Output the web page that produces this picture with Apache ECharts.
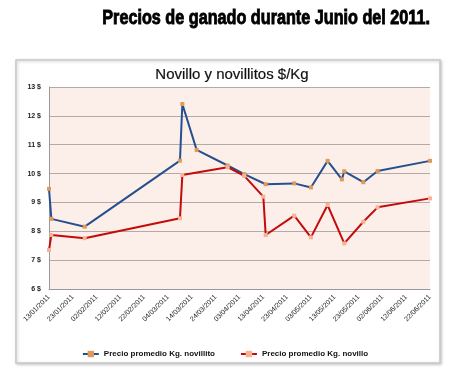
<!DOCTYPE html>
<html>
<head>
<meta charset="utf-8">
<script src="https://cdn.jsdelivr.net/npm/echarts@6/dist/echarts.min.js"></script>
<style>
  html, body { margin: 0; padding: 0; background: #fff; }
  #chart0 { width: 450px; height: 377px; }
</style>
</head>
<body>
<div id="chart0"></div>
<script>
// datos
var startDate = '2011-01-13';
var tickDays = 10;
var spanDays = 160;

var novillitoDates = ['2011-01-13', '2011-01-14', '2011-01-28', '2011-03-09', '2011-03-10', '2011-03-16',
  '2011-03-29', '2011-04-05', '2011-04-14', '2011-04-26', '2011-05-03', '2011-05-10', '2011-05-16',
  '2011-05-17', '2011-05-25', '2011-05-31', '2011-06-22'];
var novillitoValues = [9.47, 8.43, 8.16, 10.45, 12.41, 10.82, 10.28, 9.98, 9.63, 9.66, 9.52, 10.44, 9.8,
  10.08, 9.7, 10.09, 10.44];

var novilloDates = ['2011-01-13', '2011-01-14', '2011-01-28', '2011-03-09', '2011-03-10', '2011-03-29',
  '2011-04-05', '2011-04-13', '2011-04-14', '2011-04-26', '2011-05-03', '2011-05-10', '2011-05-17',
  '2011-05-25', '2011-05-31', '2011-06-22'];
var novilloValues = [7.35, 7.87, 7.76, 8.45, 9.95, 10.22, 9.92, 9.2, 7.87, 8.54, 7.79, 8.91, 7.58, 8.33,
  8.83, 9.14];

function dayIndex(s) {
  var p = s.split('-');
  var p0 = startDate.split('-');
  return (Date.UTC(+p[0], p[1] - 1, +p[2]) - Date.UTC(+p0[0], p0[1] - 1, +p0[2])) / 86400000;
}
function dayLabel(n) {
  var p0 = startDate.split('-');
  var d = new Date(Date.UTC(+p0[0], p0[1] - 1, +p0[2]) + n * 86400000);
  var dd = ('0' + d.getUTCDate()).slice(-2);
  var mm = ('0' + (d.getUTCMonth() + 1)).slice(-2);
  return dd + '/' + mm + '/' + d.getUTCFullYear();
}
function pairs(dates, values) {
  return dates.map(function (s, i) { return [dayIndex(s), values[i]]; });
}

var myChart = echarts.init(document.getElementById('chart0'));
var option = {
  backgroundColor: '#fff',
  animation: false,
  graphic: [
    {
      type: 'rect', z: -10, silent: true,
      shape: { x: 16, y: 60, width: 424, height: 303 },
      style: { fill: '#fff', stroke: '#c8c8c8', lineWidth: 1.5,
        shadowBlur: 3, shadowColor: 'rgba(0,0,0,0.2)', shadowOffsetX: 1, shadowOffsetY: 1 }
    },
    {
      type: 'text', x: 430, y: 18, scaleX: 0.81,
      style: { text: 'Precios de ganado durante Junio del 2011.', x: 0, y: 0,
        align: 'right', verticalAlign: 'middle', fill: '#000', stroke: '#000', lineWidth: 0.9,
        font: 'bold 20px "Liberation Sans", Arial, sans-serif' }
    },
    {
      type: 'text', x: 232, y: 75,
      style: { text: 'Novillo y novillitos $/Kg', align: 'center', verticalAlign: 'middle',
        fill: '#111', stroke: '#111', lineWidth: 0.2,
        font: '15px "Liberation Sans", Arial, sans-serif' }
    }
  ],
  grid: {
    left: 49, right: 20, top: 87, bottom: 88,
    show: true, backgroundColor: '#fcefe9', borderWidth: 0
  },
  legend: {
    data: ['Precio promedio Kg. novillito', 'Precio promedio Kg. novillo'],
    left: 'center', top: 345,
    itemWidth: 16, itemHeight: 8, itemGap: 25,
    textStyle: { color: '#111', fontSize: 8, fontWeight: 'bold', fontFamily: 'Liberation Sans' }
  },
  xAxis: {
    type: 'value',
    min: 0, max: spanDays, interval: tickDays,
    axisLine: { show: true, lineStyle: { color: '#999' } },
    axisTick: { show: false },
    splitLine: { show: false },
    axisLabel: {
      rotate: 45, fontSize: 7, color: '#222', margin: 7,
      fontFamily: 'Liberation Sans',
      formatter: function (v) { return dayLabel(v); }
    }
  },
  yAxis: {
    type: 'value',
    min: 6, max: 13, interval: 1,
    axisLine: { show: true, lineStyle: { color: '#999' } },
    axisTick: { show: false },
    splitLine: { show: true, lineStyle: { color: '#b3aaa6' } },
    axisLabel: {
      fontSize: 7, fontWeight: 'bold', color: '#222', margin: 8,
      fontFamily: 'Liberation Sans',
      formatter: '{value} $'
    }
  },
  series: [
    {
      name: 'Precio promedio Kg. novillito',
      type: 'line',
      data: pairs(novillitoDates, novillitoValues),
      symbol: 'rect', symbolSize: 4,
      itemStyle: { color: '#e09a58' },
      lineStyle: { color: '#24508f', width: 2 }
    },
    {
      name: 'Precio promedio Kg. novillo',
      type: 'line',
      data: pairs(novilloDates, novilloValues),
      symbol: 'rect', symbolSize: 4,
      itemStyle: { color: '#f6b294' },
      lineStyle: { color: '#c40a0a', width: 2 }
    }
  ]
};
myChart.setOption(option);
window.addEventListener('resize', function () { myChart.resize(); });
</script>
</body>
</html>
